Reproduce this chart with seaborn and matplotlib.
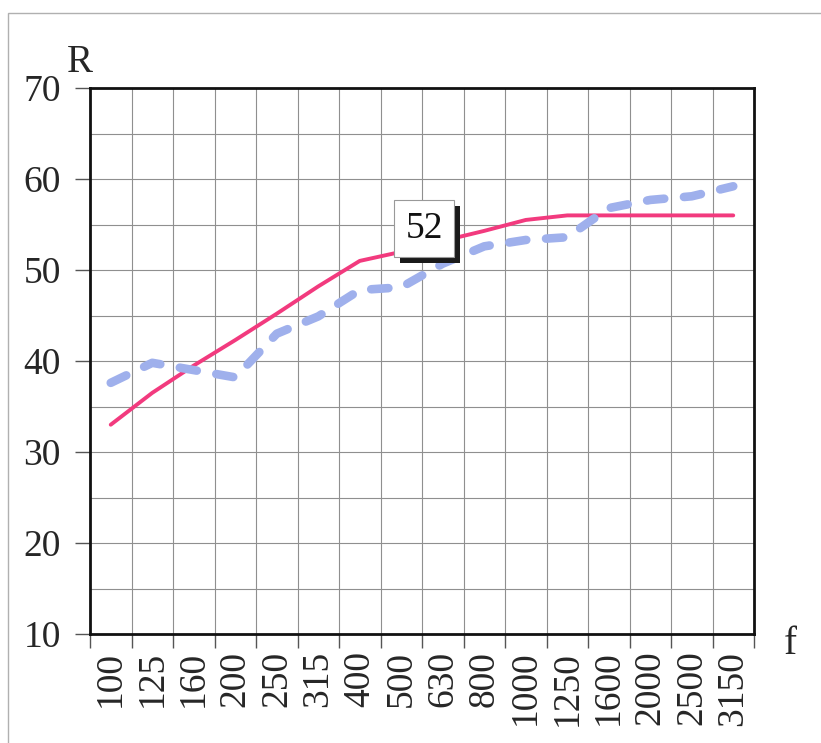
import matplotlib
matplotlib.use("Agg")
import matplotlib.pyplot as plt
import matplotlib.patheffects as pe
import numpy as np
import pandas as pd
import seaborn as sns
from matplotlib.patches import Rectangle

# frequencies (categorical axis) and the two curves
freqs = ['100', '125', '160', '200', '250', '315', '400', '500', '630',
         '800', '1000', '1250', '1600', '2000', '2500', '3150']
r_pink = [33, 36.5, 39.5, 42.3, 45.2, 48.2, 51, 52, 53.2, 54.3, 55.5, 56, 56, 56, 56, 56]
r_blue = [37.6, 39.8, 39, 38.2, 43, 44.9, 47.8, 48.1, 50.7, 52.6, 53.3, 53.6, 56.8, 57.7, 58.1, 59.2]
label_idx = 7
label_txt = '52'

df = pd.DataFrame({'x': np.arange(len(freqs)), 'pink': r_pink, 'blue': r_blue})

sns.set_style('white')
plt.rcParams['font.family'] = ['Liberation Serif', 'DejaVu Serif']

fig = plt.figure(figsize=(8.21, 7.43), dpi=100)
ax = fig.add_axes([90 / 821, 109 / 743, 664 / 821, 546 / 743])

# light frame around the whole picture
fig.patches.append(Rectangle((8 / 821, -0.01), 1.0, (743 - 13) / 743 + 0.01,
                             transform=fig.transFigure, fill=False,
                             edgecolor='#b0b0b0', linewidth=1.0))

sns.lineplot(data=df, x='x', y='pink', ax=ax, color='#f23a7e', linewidth=2.8)
sns.lineplot(data=df, x='x', y='blue', ax=ax, color='#9fb0ec', linewidth=6.2)
blue = ax.lines[-1]
blue.set_dashes((2.0, 2.3))
blue.set_dash_capstyle('round')

ax.set_xlim(-0.5, len(freqs) - 0.5)
ax.set_ylim(10, 70)

# labels at category centres, marks/grid at category boundaries
ax.set_xticks(np.arange(len(freqs)))
ax.set_xticklabels(freqs, rotation=90, fontsize=27)
ax.set_xticks(np.arange(len(freqs) + 1) - 0.5, minor=True)
ax.set_yticks(np.arange(10, 71, 10))
ax.set_yticks(np.arange(15, 70, 10), minor=True)
ax.tick_params(axis='x', which='major', length=0, pad=12)
ax.tick_params(axis='x', which='minor', length=10, width=1, color='#555555', direction='out', bottom=True)
ax.tick_params(axis='y', which='major', length=11, width=1, color='#555555', labelsize=27, pad=10, left=True)
ax.tick_params(axis='y', which='minor', length=0)
ax.grid(True, which='both', color='#8f8f8f', linewidth=0.8)
ax.xaxis.grid(False, which='major')
ax.set_axisbelow(True)
for s in ax.spines.values():
    s.set_color('#111111')
    s.set_linewidth(2)

ax.set_xlabel('')
ax.set_ylabel('')
fig.text(80 / 821, 1 - 62 / 743, 'R', fontsize=28, ha='center', va='center')
fig.text(790 / 821, 1 - 645 / 743, 'f', fontsize=28, ha='center', va='center')

# value label with a dark drop shadow
yv = r_pink[label_idx]
t = ax.annotate(label_txt, (label_idx, yv), xytext=(3, 4), textcoords='offset points',
                fontsize=27, color='#111111', ha='left', va='bottom', zorder=6,
                bbox=dict(boxstyle='square,pad=0.3', fc='white', ec='#999999', lw=0.8),
                annotation_clip=False)
t.get_bbox_patch().set_path_effects([
    pe.SimplePatchShadow(offset=(4, -4), shadow_rgbFace='#1a1a1a', alpha=1.0),
    pe.Normal()])

fig.savefig('out.png', dpi=100)
